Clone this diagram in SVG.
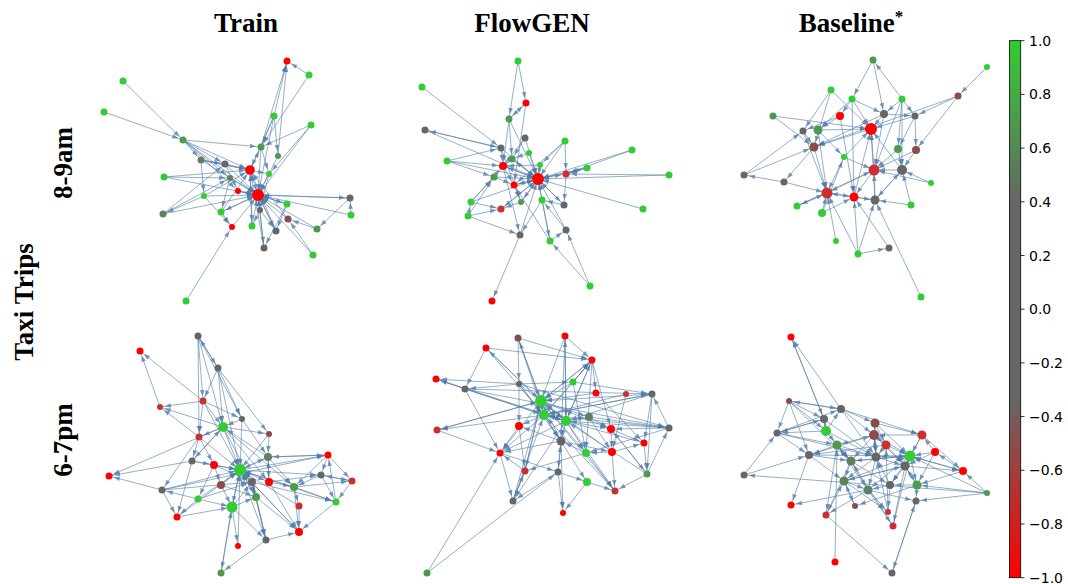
<svg xmlns="http://www.w3.org/2000/svg" width="1068" height="584" viewBox="0 0 1068 584">
<defs>
<style>
.title{font-family:"Liberation Serif",serif;font-weight:bold;font-size:27px;fill:#000}
.tick{font-family:"DejaVu Sans",sans-serif;font-size:14px;fill:#000}
.G{fill:#33cc33}.DG{fill:#4c9a4c}.GG{fill:#5f7f5f}.Gy{fill:#666666}.Br{fill:#8b4b4b}.RD{fill:#cc2f2f}.R{fill:#ff0000}
.edges line{stroke:#4e79a7;stroke-opacity:0.6;stroke-width:1;marker-end:url(#ah)}
</style>
<marker id="ah" viewBox="-8 -4 16 8" markerWidth="16" markerHeight="8" refX="5" refY="0" orient="auto" markerUnits="userSpaceOnUse">
<path d="M-6,-2.3 L0,0 L-6,2.3 z" fill="#4e79a7" fill-opacity="0.75"/>
</marker>
<linearGradient id="cmap" x1="0" y1="0" x2="0" y2="1">
<stop offset="0" stop-color="#32cd32"/>
<stop offset="0.3" stop-color="#666666"/>
<stop offset="0.67" stop-color="#666666"/>
<stop offset="1" stop-color="#ff0000"/>
</linearGradient>
</defs>
<rect width="1068" height="584" fill="#ffffff"/>

<!-- column and row headings -->
<text class="title" x="246" y="32" text-anchor="middle">Train</text>
<text class="title" x="532" y="32" text-anchor="middle">FlowGEN</text>
<text class="title" x="851" y="32" text-anchor="middle">Baseline<tspan font-size="17" dy="-10">*</tspan></text>
<text class="title" transform="translate(72,163) rotate(-90)" text-anchor="middle">8-9am</text>
<text class="title" transform="translate(72,440) rotate(-90)" text-anchor="middle">6-7pm</text>
<text class="title" transform="translate(33,302) rotate(-90)" text-anchor="middle">Taxi Trips</text>

<!-- connectors -->
<g id="connectors" class="edges">
<!-- Train, 8-9am -->
<line x1="309" y1="75" x2="287" y2="61"/><line x1="274" y1="116" x2="287" y2="61"/><line x1="261" y1="147" x2="287" y2="61"/><line x1="278" y1="156" x2="287" y2="61"/>
<line x1="123" y1="81" x2="183" y2="140"/><line x1="104" y1="112" x2="183" y2="140"/><line x1="183" y1="140" x2="261" y2="147"/><line x1="183" y1="140" x2="250" y2="170"/>
<line x1="183" y1="140" x2="225" y2="164"/><line x1="183" y1="140" x2="230" y2="178"/><line x1="183" y1="140" x2="258" y2="195"/><line x1="183" y1="140" x2="238" y2="191"/>
<line x1="201" y1="160" x2="258" y2="195"/><line x1="201" y1="160" x2="250" y2="170"/><line x1="201" y1="160" x2="269" y2="174"/><line x1="201" y1="160" x2="204" y2="196"/>
<line x1="225" y1="164" x2="250" y2="170"/><line x1="225" y1="164" x2="258" y2="195"/><line x1="274" y1="116" x2="250" y2="170"/><line x1="274" y1="116" x2="258" y2="195"/>
<line x1="274" y1="116" x2="261" y2="147"/><line x1="311" y1="125" x2="261" y2="147"/><line x1="311" y1="125" x2="269" y2="174"/><line x1="311" y1="125" x2="258" y2="195"/>
<line x1="278" y1="156" x2="258" y2="195"/><line x1="269" y1="174" x2="258" y2="195"/><line x1="250" y1="170" x2="258" y2="195"/><line x1="164" y1="177" x2="250" y2="170"/>
<line x1="164" y1="177" x2="258" y2="195"/><line x1="230" y1="178" x2="258" y2="195"/><line x1="238" y1="191" x2="258" y2="195"/><line x1="204" y1="196" x2="250" y2="170"/>
<line x1="204" y1="196" x2="258" y2="195"/><line x1="204" y1="196" x2="163" y2="214"/><line x1="204" y1="196" x2="232" y2="227"/><line x1="221" y1="212" x2="250" y2="170"/>
<line x1="221" y1="212" x2="258" y2="195"/><line x1="163" y1="214" x2="225" y2="164"/><line x1="163" y1="214" x2="258" y2="195"/><line x1="163" y1="214" x2="230" y2="178"/>
<line x1="350" y1="198" x2="258" y2="195"/><line x1="351" y1="215" x2="258" y2="195"/><line x1="351" y1="215" x2="350" y2="198"/><line x1="350" y1="198" x2="317" y2="229"/>
<line x1="317" y1="229" x2="258" y2="195"/><line x1="287" y1="204" x2="258" y2="195"/><line x1="260" y1="210" x2="258" y2="195"/><line x1="288" y1="219" x2="258" y2="195"/>
<line x1="288" y1="219" x2="250" y2="170"/><line x1="252" y1="226" x2="258" y2="195"/><line x1="232" y1="227" x2="258" y2="195"/><line x1="252" y1="226" x2="250" y2="170"/>
<line x1="276" y1="231" x2="258" y2="195"/><line x1="276" y1="231" x2="250" y2="170"/><line x1="264" y1="248" x2="258" y2="195"/><line x1="264" y1="248" x2="250" y2="170"/>
<line x1="313" y1="255" x2="288" y2="219"/><line x1="313" y1="255" x2="258" y2="195"/><line x1="186" y1="301" x2="232" y2="227"/><line x1="258" y1="195" x2="264" y2="248"/>
<line x1="258" y1="195" x2="276" y2="231"/><line x1="258" y1="195" x2="221" y2="212"/><line x1="250" y1="170" x2="252" y2="226"/><line x1="269" y1="174" x2="260" y2="210"/>
<line x1="287" y1="204" x2="276" y2="231"/><line x1="261" y1="147" x2="258" y2="195"/><line x1="261" y1="147" x2="269" y2="174"/><line x1="274" y1="116" x2="278" y2="156"/>
<line x1="183" y1="140" x2="201" y2="160"/><line x1="309" y1="75" x2="261" y2="147"/><line x1="317" y1="229" x2="288" y2="219"/><line x1="260" y1="210" x2="276" y2="231"/>
<line x1="258" y1="195" x2="287" y2="204"/><line x1="230" y1="178" x2="221" y2="212"/><line x1="287" y1="204" x2="264" y2="248"/><line x1="258" y1="195" x2="350" y2="198"/>
<line x1="250" y1="170" x2="261" y2="147"/><line x1="164" y1="177" x2="230" y2="178"/><line x1="201" y1="160" x2="225" y2="164"/><line x1="225" y1="164" x2="238" y2="191"/>
<line x1="258" y1="195" x2="238" y2="191"/><line x1="260" y1="210" x2="252" y2="226"/><line x1="221" y1="212" x2="232" y2="227"/>

<!-- FlowGEN, 8-9am -->
<line x1="518" y1="61" x2="509" y2="119"/><line x1="518" y1="61" x2="526" y2="103"/><line x1="509" y1="119" x2="526" y2="103"/><line x1="422" y1="87" x2="501" y2="148"/>
<line x1="501" y1="148" x2="425" y2="130"/><line x1="425" y1="130" x2="538" y2="179"/><line x1="526" y1="103" x2="514" y2="185"/><line x1="509" y1="119" x2="538" y2="179"/>
<line x1="509" y1="119" x2="503" y2="166"/><line x1="525" y1="138" x2="538" y2="179"/><line x1="525" y1="138" x2="503" y2="166"/><line x1="565" y1="141" x2="566" y2="174"/>
<line x1="565" y1="141" x2="538" y2="179"/><line x1="565" y1="141" x2="514" y2="185"/><line x1="632" y1="150" x2="538" y2="179"/><line x1="632" y1="150" x2="566" y2="174"/>
<line x1="587" y1="168" x2="538" y2="179"/><line x1="669" y1="175" x2="538" y2="179"/><line x1="669" y1="175" x2="566" y2="174"/><line x1="643" y1="209" x2="538" y2="179"/>
<line x1="447" y1="161" x2="503" y2="166"/><line x1="447" y1="161" x2="538" y2="179"/><line x1="447" y1="161" x2="501" y2="148"/><line x1="501" y1="148" x2="538" y2="179"/>
<line x1="529" y1="153" x2="538" y2="179"/><line x1="512" y1="159" x2="538" y2="179"/><line x1="503" y1="166" x2="538" y2="179"/><line x1="540" y1="165" x2="538" y2="179"/>
<line x1="494" y1="177" x2="538" y2="179"/><line x1="514" y1="185" x2="538" y2="179"/><line x1="542" y1="200" x2="538" y2="179"/><line x1="521" y1="202" x2="538" y2="179"/>
<line x1="471" y1="202" x2="494" y2="177"/><line x1="471" y1="202" x2="503" y2="166"/><line x1="471" y1="202" x2="538" y2="179"/><line x1="468" y1="216" x2="494" y2="177"/>
<line x1="468" y1="216" x2="501" y2="209"/><line x1="468" y1="216" x2="520" y2="235"/><line x1="501" y1="209" x2="538" y2="179"/><line x1="564" y1="205" x2="538" y2="179"/>
<line x1="566" y1="230" x2="538" y2="179"/><line x1="566" y1="230" x2="542" y2="200"/><line x1="520" y1="235" x2="538" y2="179"/><line x1="520" y1="235" x2="492" y2="301"/>
<line x1="550" y1="241" x2="538" y2="179"/><line x1="550" y1="241" x2="566" y2="230"/><line x1="550" y1="241" x2="514" y2="185"/><line x1="590" y1="286" x2="550" y2="241"/>
<line x1="590" y1="286" x2="566" y2="230"/><line x1="538" y1="179" x2="503" y2="166"/><line x1="538" y1="179" x2="512" y2="159"/><line x1="538" y1="179" x2="514" y2="185"/>
<line x1="538" y1="179" x2="564" y2="205"/><line x1="538" y1="179" x2="521" y2="202"/><line x1="503" y1="166" x2="514" y2="185"/><line x1="512" y1="159" x2="503" y2="166"/>
<line x1="529" y1="153" x2="512" y2="159"/><line x1="494" y1="177" x2="514" y2="185"/><line x1="521" y1="202" x2="501" y2="209"/><line x1="542" y1="200" x2="550" y2="241"/>
<line x1="564" y1="205" x2="542" y2="200"/><line x1="566" y1="174" x2="564" y2="205"/><line x1="509" y1="119" x2="512" y2="159"/><line x1="501" y1="148" x2="503" y2="166"/>
<line x1="525" y1="138" x2="512" y2="159"/><line x1="540" y1="165" x2="503" y2="166"/><line x1="503" y1="166" x2="520" y2="235"/><line x1="514" y1="185" x2="521" y2="202"/>
<line x1="587" y1="168" x2="566" y2="174"/><line x1="471" y1="202" x2="501" y2="209"/><line x1="468" y1="216" x2="471" y2="202"/><line x1="542" y1="200" x2="520" y2="235"/>
<line x1="538" y1="179" x2="501" y2="209"/><line x1="501" y1="148" x2="521" y2="202"/><line x1="447" y1="161" x2="494" y2="177"/><line x1="425" y1="130" x2="501" y2="148"/>
<line x1="526" y1="103" x2="509" y2="119"/><line x1="565" y1="141" x2="540" y2="165"/><line x1="538" y1="179" x2="566" y2="174"/><line x1="538" y1="179" x2="587" y2="168"/>

<!-- Baseline, 8-9am -->
<line x1="987" y1="67" x2="958" y2="96"/><line x1="873" y1="60" x2="852" y2="99"/><line x1="873" y1="60" x2="884" y2="114"/><line x1="902" y1="99" x2="873" y2="60"/>
<line x1="831" y1="90" x2="803" y2="131"/><line x1="831" y1="90" x2="814" y2="147"/><line x1="852" y1="99" x2="840" y2="116"/><line x1="852" y1="99" x2="871" y2="129"/>
<line x1="852" y1="99" x2="854" y2="197"/><line x1="852" y1="99" x2="884" y2="114"/><line x1="902" y1="99" x2="884" y2="114"/><line x1="902" y1="99" x2="898" y2="149"/>
<line x1="902" y1="99" x2="915" y2="116"/><line x1="902" y1="99" x2="902" y2="170"/><line x1="902" y1="99" x2="874" y2="170"/><line x1="884" y1="114" x2="871" y2="129"/>
<line x1="884" y1="114" x2="915" y2="116"/><line x1="884" y1="114" x2="814" y2="147"/><line x1="840" y1="116" x2="818" y2="130"/><line x1="840" y1="116" x2="803" y2="131"/>
<line x1="915" y1="116" x2="916" y2="150"/><line x1="915" y1="116" x2="871" y2="129"/><line x1="958" y1="96" x2="916" y2="150"/><line x1="958" y1="96" x2="814" y2="147"/>
<line x1="773" y1="116" x2="814" y2="147"/><line x1="773" y1="116" x2="871" y2="129"/><line x1="803" y1="131" x2="827" y2="193"/><line x1="803" y1="131" x2="814" y2="147"/>
<line x1="818" y1="130" x2="844" y2="157"/><line x1="818" y1="130" x2="871" y2="129"/><line x1="818" y1="130" x2="827" y2="193"/><line x1="814" y1="147" x2="827" y2="193"/>
<line x1="814" y1="147" x2="784" y2="182"/><line x1="898" y1="149" x2="874" y2="170"/><line x1="916" y1="150" x2="902" y2="170"/><line x1="916" y1="150" x2="874" y2="170"/>
<line x1="844" y1="157" x2="871" y2="129"/><line x1="844" y1="157" x2="827" y2="193"/><line x1="844" y1="157" x2="874" y2="170"/><line x1="874" y1="170" x2="871" y2="129"/>
<line x1="874" y1="170" x2="827" y2="193"/><line x1="874" y1="170" x2="854" y2="197"/><line x1="902" y1="170" x2="874" y2="170"/><line x1="902" y1="170" x2="875" y2="200"/>
<line x1="902" y1="170" x2="871" y2="129"/><line x1="744" y1="175" x2="803" y2="131"/><line x1="744" y1="175" x2="814" y2="147"/><line x1="784" y1="182" x2="744" y2="175"/>
<line x1="784" y1="182" x2="827" y2="193"/><line x1="931" y1="183" x2="902" y2="170"/><line x1="931" y1="183" x2="874" y2="170"/><line x1="827" y1="193" x2="854" y2="197"/>
<line x1="827" y1="193" x2="797" y2="206"/><line x1="854" y1="197" x2="875" y2="200"/><line x1="854" y1="197" x2="871" y2="129"/><line x1="875" y1="200" x2="874" y2="170"/>
<line x1="875" y1="200" x2="902" y2="170"/><line x1="875" y1="200" x2="871" y2="129"/><line x1="911" y1="205" x2="875" y2="200"/><line x1="911" y1="205" x2="902" y2="170"/>
<line x1="797" y1="206" x2="827" y2="193"/><line x1="797" y1="206" x2="874" y2="170"/><line x1="822" y1="213" x2="827" y2="193"/><line x1="822" y1="213" x2="844" y2="157"/>
<line x1="836" y1="241" x2="827" y2="193"/><line x1="858" y1="254" x2="827" y2="193"/><line x1="858" y1="254" x2="875" y2="200"/><line x1="858" y1="254" x2="889" y2="248"/>
<line x1="889" y1="248" x2="854" y2="197"/><line x1="921" y1="297" x2="875" y2="200"/><line x1="858" y1="254" x2="854" y2="197"/><line x1="871" y1="129" x2="814" y2="147"/>
<line x1="840" y1="116" x2="854" y2="197"/><line x1="884" y1="114" x2="874" y2="170"/><line x1="875" y1="200" x2="827" y2="193"/><line x1="831" y1="90" x2="871" y2="129"/>
<line x1="852" y1="99" x2="818" y2="130"/><line x1="822" y1="213" x2="854" y2="197"/><line x1="898" y1="149" x2="902" y2="170"/><line x1="915" y1="116" x2="898" y2="149"/>
<line x1="958" y1="96" x2="915" y2="116"/>

<!-- Train, 6-7pm -->
<line x1="198" y1="336" x2="218" y2="368"/><line x1="198" y1="336" x2="203" y2="401"/><line x1="198" y1="336" x2="223" y2="427"/><line x1="218" y1="368" x2="198" y2="336"/>
<line x1="218" y1="368" x2="242" y2="419"/><line x1="218" y1="368" x2="240" y2="470"/><line x1="203" y1="401" x2="140" y2="351"/><line x1="203" y1="401" x2="160" y2="407"/>
<line x1="203" y1="401" x2="242" y2="419"/><line x1="203" y1="401" x2="240" y2="470"/><line x1="160" y1="407" x2="140" y2="351"/><line x1="242" y1="419" x2="240" y2="470"/>
<line x1="223" y1="427" x2="240" y2="470"/><line x1="223" y1="427" x2="199" y2="437"/><line x1="223" y1="427" x2="269" y2="434"/><line x1="223" y1="427" x2="192" y2="461"/>
<line x1="223" y1="427" x2="252" y2="482"/><line x1="269" y1="434" x2="240" y2="470"/><line x1="199" y1="437" x2="160" y2="407"/><line x1="199" y1="437" x2="240" y2="470"/>
<line x1="199" y1="437" x2="162" y2="490"/><line x1="268" y1="457" x2="240" y2="470"/><line x1="268" y1="457" x2="269" y2="482"/><line x1="268" y1="457" x2="223" y2="427"/>
<line x1="328" y1="455" x2="268" y2="457"/><line x1="328" y1="455" x2="294" y2="487"/><line x1="328" y1="455" x2="321" y2="475"/><line x1="192" y1="461" x2="109" y2="476"/>
<line x1="192" y1="461" x2="214" y2="465"/><line x1="192" y1="461" x2="240" y2="470"/><line x1="214" y1="465" x2="240" y2="470"/><line x1="240" y1="470" x2="252" y2="482"/>
<line x1="240" y1="470" x2="269" y2="482"/><line x1="321" y1="475" x2="294" y2="487"/><line x1="321" y1="475" x2="352" y2="481"/><line x1="252" y1="482" x2="256" y2="497"/>
<line x1="269" y1="482" x2="268" y2="457"/><line x1="269" y1="482" x2="294" y2="487"/><line x1="352" y1="481" x2="336" y2="502"/><line x1="352" y1="481" x2="321" y2="475"/>
<line x1="221" y1="485" x2="240" y2="470"/><line x1="294" y1="487" x2="240" y2="470"/><line x1="294" y1="487" x2="299" y2="506"/><line x1="294" y1="487" x2="336" y2="502"/>
<line x1="162" y1="490" x2="109" y2="476"/><line x1="162" y1="490" x2="177" y2="517"/><line x1="162" y1="490" x2="240" y2="470"/><line x1="256" y1="497" x2="240" y2="470"/>
<line x1="256" y1="497" x2="266" y2="540"/><line x1="198" y1="499" x2="240" y2="470"/><line x1="198" y1="499" x2="177" y2="517"/><line x1="198" y1="499" x2="162" y2="490"/>
<line x1="336" y1="502" x2="299" y2="532"/><line x1="336" y1="502" x2="328" y2="455"/><line x1="232" y1="507" x2="240" y2="470"/><line x1="232" y1="507" x2="238" y2="546"/>
<line x1="232" y1="507" x2="221" y2="573"/><line x1="299" y1="506" x2="299" y2="532"/><line x1="299" y1="506" x2="240" y2="470"/><line x1="177" y1="517" x2="240" y2="470"/>
<line x1="299" y1="532" x2="240" y2="470"/><line x1="266" y1="540" x2="221" y2="573"/><line x1="266" y1="540" x2="299" y2="532"/><line x1="266" y1="540" x2="252" y2="482"/>
<line x1="238" y1="546" x2="240" y2="470"/><line x1="221" y1="573" x2="232" y2="507"/><line x1="214" y1="465" x2="221" y2="485"/><line x1="232" y1="507" x2="256" y2="497"/>
<line x1="223" y1="427" x2="160" y2="407"/><line x1="252" y1="482" x2="266" y2="540"/><line x1="240" y1="470" x2="299" y2="532"/><line x1="199" y1="437" x2="192" y2="461"/>
<line x1="221" y1="485" x2="232" y2="507"/><line x1="192" y1="461" x2="223" y2="427"/><line x1="162" y1="490" x2="328" y2="455"/><line x1="223" y1="427" x2="109" y2="476"/>
<line x1="240" y1="470" x2="328" y2="455"/><line x1="240" y1="470" x2="321" y2="475"/><line x1="240" y1="470" x2="336" y2="502"/><line x1="198" y1="499" x2="232" y2="507"/>
<line x1="218" y1="368" x2="203" y2="401"/><line x1="203" y1="401" x2="199" y2="437"/><line x1="232" y1="507" x2="266" y2="540"/>
<line x1="198" y1="336" x2="242" y2="419"/><line x1="218" y1="368" x2="223" y2="427"/><line x1="198" y1="336" x2="199" y2="437"/><line x1="203" y1="401" x2="223" y2="427"/>
<line x1="223" y1="427" x2="269" y2="482"/><line x1="223" y1="427" x2="294" y2="487"/><line x1="242" y1="419" x2="268" y2="457"/><line x1="269" y1="434" x2="268" y2="457"/>
<line x1="240" y1="470" x2="268" y2="457"/><line x1="240" y1="470" x2="256" y2="497"/><line x1="240" y1="470" x2="232" y2="507"/><line x1="214" y1="465" x2="252" y2="482"/>
<line x1="198" y1="499" x2="252" y2="482"/><line x1="162" y1="490" x2="252" y2="482"/><line x1="177" y1="517" x2="232" y2="507"/><line x1="240" y1="470" x2="266" y2="540"/>
<line x1="269" y1="482" x2="299" y2="532"/><line x1="294" y1="487" x2="299" y2="532"/><line x1="256" y1="497" x2="299" y2="532"/><line x1="268" y1="457" x2="294" y2="487"/>
<line x1="268" y1="457" x2="328" y2="455"/><line x1="269" y1="482" x2="321" y2="475"/><line x1="294" y1="487" x2="352" y2="481"/><line x1="252" y1="482" x2="336" y2="502"/>
<line x1="328" y1="455" x2="352" y2="481"/><line x1="321" y1="475" x2="336" y2="502"/><line x1="232" y1="507" x2="252" y2="482"/><line x1="221" y1="485" x2="256" y2="497"/>
<line x1="192" y1="461" x2="177" y2="517"/><line x1="214" y1="465" x2="198" y2="499"/><line x1="199" y1="437" x2="214" y2="465"/><line x1="242" y1="419" x2="223" y2="427"/>
<line x1="218" y1="368" x2="269" y2="434"/>

<!-- FlowGEN, 6-7pm -->
<line x1="518" y1="338" x2="519" y2="384"/><line x1="518" y1="338" x2="541" y2="401"/><line x1="541" y1="401" x2="518" y2="338"/><line x1="486" y1="348" x2="541" y2="401"/>
<line x1="486" y1="348" x2="544" y2="415"/><line x1="541" y1="401" x2="486" y2="348"/><line x1="565" y1="336" x2="566" y2="421"/><line x1="566" y1="421" x2="565" y2="336"/>
<line x1="565" y1="336" x2="561" y2="441"/><line x1="592" y1="360" x2="544" y2="415"/><line x1="592" y1="360" x2="541" y2="401"/><line x1="592" y1="360" x2="566" y2="421"/>
<line x1="592" y1="360" x2="611" y2="429"/><line x1="465" y1="389" x2="436" y2="379"/><line x1="519" y1="384" x2="436" y2="379"/><line x1="519" y1="384" x2="465" y2="389"/>
<line x1="465" y1="389" x2="500" y2="453"/><line x1="519" y1="384" x2="561" y2="441"/><line x1="519" y1="384" x2="519" y2="426"/><line x1="573" y1="382" x2="592" y2="360"/>
<line x1="573" y1="382" x2="541" y2="401"/><line x1="596" y1="393" x2="541" y2="401"/><line x1="626" y1="394" x2="544" y2="415"/><line x1="652" y1="394" x2="544" y2="415"/>
<line x1="652" y1="394" x2="541" y2="401"/><line x1="652" y1="394" x2="566" y2="421"/><line x1="652" y1="394" x2="644" y2="443"/><line x1="669" y1="428" x2="652" y2="394"/>
<line x1="669" y1="428" x2="566" y2="421"/><line x1="669" y1="428" x2="544" y2="415"/><line x1="669" y1="428" x2="611" y2="429"/><line x1="541" y1="401" x2="544" y2="415"/>
<line x1="541" y1="401" x2="566" y2="421"/><line x1="541" y1="401" x2="589" y2="417"/><line x1="541" y1="401" x2="611" y2="429"/><line x1="544" y1="415" x2="566" y2="421"/>
<line x1="544" y1="415" x2="519" y2="426"/><line x1="544" y1="415" x2="437" y2="430"/><line x1="566" y1="421" x2="589" y2="417"/><line x1="566" y1="421" x2="611" y2="429"/>
<line x1="566" y1="421" x2="561" y2="441"/><line x1="589" y1="417" x2="611" y2="429"/><line x1="589" y1="417" x2="669" y2="428"/><line x1="519" y1="426" x2="500" y2="453"/>
<line x1="611" y1="429" x2="644" y2="443"/><line x1="561" y1="441" x2="500" y2="453"/><line x1="561" y1="441" x2="558" y2="472"/><line x1="561" y1="441" x2="563" y2="513"/>
<line x1="644" y1="443" x2="544" y2="415"/><line x1="586" y1="453" x2="615" y2="491"/><line x1="586" y1="453" x2="525" y2="471"/><line x1="586" y1="453" x2="561" y2="441"/>
<line x1="612" y1="452" x2="541" y2="401"/><line x1="612" y1="452" x2="644" y2="443"/><line x1="612" y1="452" x2="615" y2="491"/><line x1="500" y1="453" x2="558" y2="472"/>
<line x1="525" y1="471" x2="500" y2="453"/><line x1="525" y1="471" x2="513" y2="501"/><line x1="558" y1="472" x2="513" y2="501"/><line x1="558" y1="472" x2="587" y2="482"/>
<line x1="558" y1="472" x2="563" y2="513"/><line x1="647" y1="474" x2="611" y2="429"/><line x1="647" y1="474" x2="615" y2="491"/><line x1="647" y1="474" x2="566" y2="421"/>
<line x1="587" y1="482" x2="615" y2="491"/><line x1="615" y1="491" x2="544" y2="415"/><line x1="513" y1="501" x2="544" y2="415"/><line x1="513" y1="501" x2="541" y2="401"/>
<line x1="427" y1="573" x2="500" y2="453"/><line x1="427" y1="573" x2="558" y2="472"/><line x1="437" y1="430" x2="541" y2="401"/><line x1="519" y1="384" x2="566" y2="421"/>
<line x1="566" y1="421" x2="513" y2="501"/><line x1="596" y1="393" x2="644" y2="443"/><line x1="611" y1="429" x2="612" y2="452"/><line x1="544" y1="415" x2="652" y2="394"/>
<line x1="669" y1="428" x2="586" y2="453"/><line x1="525" y1="471" x2="541" y2="401"/><line x1="465" y1="389" x2="544" y2="415"/><line x1="519" y1="384" x2="573" y2="382"/>
<line x1="573" y1="382" x2="652" y2="394"/><line x1="541" y1="401" x2="592" y2="360"/><line x1="544" y1="415" x2="592" y2="360"/><line x1="561" y1="441" x2="541" y2="401"/>
<line x1="587" y1="482" x2="563" y2="513"/><line x1="589" y1="417" x2="612" y2="452"/><line x1="647" y1="474" x2="669" y2="428"/>
<line x1="465" y1="389" x2="652" y2="394"/><line x1="486" y1="348" x2="592" y2="360"/><line x1="518" y1="338" x2="592" y2="360"/><line x1="519" y1="384" x2="669" y2="428"/>
<line x1="465" y1="389" x2="669" y2="428"/><line x1="436" y1="379" x2="566" y2="421"/><line x1="544" y1="415" x2="436" y2="379"/><line x1="541" y1="401" x2="437" y2="430"/>
<line x1="544" y1="415" x2="500" y2="453"/><line x1="541" y1="401" x2="500" y2="453"/><line x1="566" y1="421" x2="500" y2="453"/><line x1="541" y1="401" x2="525" y2="471"/>
<line x1="566" y1="421" x2="615" y2="491"/><line x1="541" y1="401" x2="615" y2="491"/><line x1="544" y1="415" x2="587" y2="482"/><line x1="541" y1="401" x2="586" y2="453"/>
<line x1="566" y1="421" x2="586" y2="453"/><line x1="573" y1="382" x2="586" y2="453"/><line x1="592" y1="360" x2="596" y2="393"/><line x1="592" y1="360" x2="586" y2="453"/>
<line x1="565" y1="336" x2="592" y2="360"/><line x1="626" y1="394" x2="612" y2="452"/><line x1="652" y1="394" x2="647" y2="474"/><line x1="644" y1="443" x2="647" y2="474"/>
<line x1="611" y1="429" x2="647" y2="474"/><line x1="561" y1="441" x2="519" y2="426"/><line x1="558" y1="472" x2="561" y2="441"/><line x1="513" y1="501" x2="525" y2="471"/>
<line x1="519" y1="426" x2="525" y2="471"/><line x1="519" y1="384" x2="544" y2="415"/><line x1="518" y1="338" x2="544" y2="415"/><line x1="486" y1="348" x2="465" y2="389"/>
<line x1="566" y1="421" x2="592" y2="360"/><line x1="565" y1="336" x2="541" y2="401"/><line x1="612" y1="452" x2="586" y2="453"/><line x1="561" y1="441" x2="612" y2="452"/>
<line x1="544" y1="415" x2="561" y2="441"/><line x1="500" y1="453" x2="513" y2="501"/><line x1="437" y1="430" x2="500" y2="453"/>

<!-- Baseline, 6-7pm -->
<line x1="841" y1="409" x2="791" y2="337"/><line x1="824" y1="419" x2="791" y2="337"/><line x1="791" y1="337" x2="824" y2="419"/><line x1="789" y1="401" x2="824" y2="419"/>
<line x1="789" y1="401" x2="809" y2="455"/><line x1="789" y1="401" x2="851" y2="461"/><line x1="841" y1="409" x2="789" y2="401"/><line x1="841" y1="409" x2="875" y2="423"/>
<line x1="841" y1="409" x2="874" y2="435"/><line x1="824" y1="419" x2="777" y2="433"/><line x1="824" y1="419" x2="876" y2="457"/><line x1="875" y1="423" x2="874" y2="435"/>
<line x1="875" y1="423" x2="886" y2="445"/><line x1="826" y1="431" x2="841" y2="409"/><line x1="826" y1="431" x2="777" y2="433"/><line x1="826" y1="431" x2="876" y2="457"/>
<line x1="826" y1="431" x2="851" y2="461"/><line x1="777" y1="433" x2="809" y2="455"/><line x1="874" y1="435" x2="837" y2="445"/><line x1="874" y1="435" x2="851" y2="461"/>
<line x1="874" y1="435" x2="910" y2="456"/><line x1="922" y1="435" x2="910" y2="456"/><line x1="922" y1="435" x2="874" y2="435"/><line x1="837" y1="445" x2="809" y2="455"/>
<line x1="837" y1="445" x2="876" y2="457"/><line x1="837" y1="445" x2="826" y2="515"/><line x1="886" y1="445" x2="905" y2="466"/><line x1="886" y1="445" x2="809" y2="455"/>
<line x1="935" y1="452" x2="917" y2="485"/><line x1="910" y1="456" x2="963" y2="471"/><line x1="910" y1="456" x2="851" y2="461"/><line x1="910" y1="456" x2="876" y2="457"/>
<line x1="809" y1="455" x2="910" y2="456"/><line x1="809" y1="455" x2="791" y2="505"/><line x1="876" y1="457" x2="905" y2="466"/><line x1="876" y1="457" x2="844" y2="481"/>
<line x1="851" y1="461" x2="910" y2="456"/><line x1="851" y1="461" x2="868" y2="490"/><line x1="905" y1="466" x2="963" y2="471"/><line x1="905" y1="466" x2="844" y2="481"/>
<line x1="963" y1="471" x2="910" y2="456"/><line x1="744" y1="475" x2="777" y2="433"/><line x1="987" y1="493" x2="744" y2="475"/><line x1="987" y1="493" x2="917" y2="485"/>
<line x1="987" y1="493" x2="910" y2="456"/><line x1="987" y1="493" x2="963" y2="471"/><line x1="844" y1="481" x2="868" y2="490"/><line x1="844" y1="481" x2="905" y2="466"/>
<line x1="890" y1="485" x2="876" y2="457"/><line x1="890" y1="485" x2="868" y2="490"/><line x1="917" y1="485" x2="890" y2="485"/><line x1="917" y1="485" x2="855" y2="506"/>
<line x1="868" y1="490" x2="916" y2="501"/><line x1="868" y1="490" x2="837" y2="445"/><line x1="916" y1="501" x2="892" y2="573"/><line x1="892" y1="573" x2="916" y2="501"/>
<line x1="826" y1="515" x2="892" y2="573"/><line x1="826" y1="515" x2="844" y2="481"/><line x1="868" y1="490" x2="791" y2="505"/><line x1="855" y1="506" x2="844" y2="481"/>
<line x1="888" y1="512" x2="876" y2="457"/><line x1="888" y1="512" x2="886" y2="445"/><line x1="893" y1="526" x2="910" y2="456"/><line x1="893" y1="526" x2="851" y2="461"/>
<line x1="835" y1="562" x2="837" y2="445"/><line x1="876" y1="457" x2="874" y2="435"/><line x1="809" y1="455" x2="874" y2="435"/><line x1="789" y1="401" x2="777" y2="433"/>
<line x1="875" y1="423" x2="910" y2="456"/><line x1="844" y1="481" x2="910" y2="456"/><line x1="851" y1="461" x2="890" y2="485"/><line x1="777" y1="433" x2="841" y2="409"/>
<line x1="875" y1="423" x2="922" y2="435"/><line x1="841" y1="409" x2="922" y2="435"/><line x1="917" y1="485" x2="905" y2="466"/><line x1="905" y1="466" x2="893" y2="526"/>
<line x1="868" y1="490" x2="826" y2="515"/><line x1="844" y1="481" x2="888" y2="512"/><line x1="910" y1="456" x2="917" y2="485"/><line x1="935" y1="452" x2="922" y2="435"/>
<line x1="963" y1="471" x2="935" y2="452"/><line x1="826" y1="431" x2="824" y2="419"/>
<line x1="789" y1="401" x2="841" y2="409"/><line x1="777" y1="433" x2="824" y2="419"/><line x1="789" y1="401" x2="826" y2="431"/><line x1="824" y1="419" x2="826" y2="431"/>
<line x1="841" y1="409" x2="876" y2="457"/><line x1="875" y1="423" x2="876" y2="457"/><line x1="874" y1="435" x2="876" y2="457"/><line x1="874" y1="435" x2="905" y2="466"/>
<line x1="886" y1="445" x2="910" y2="456"/><line x1="886" y1="445" x2="876" y2="457"/><line x1="922" y1="435" x2="905" y2="466"/><line x1="935" y1="452" x2="905" y2="466"/>
<line x1="910" y1="456" x2="905" y2="466"/><line x1="910" y1="456" x2="890" y2="485"/><line x1="910" y1="456" x2="868" y2="490"/><line x1="876" y1="457" x2="868" y2="490"/>
<line x1="851" y1="461" x2="844" y2="481"/><line x1="837" y1="445" x2="851" y2="461"/><line x1="809" y1="455" x2="851" y2="461"/><line x1="809" y1="455" x2="844" y2="481"/>
<line x1="826" y1="431" x2="837" y2="445"/><line x1="777" y1="433" x2="837" y2="445"/><line x1="777" y1="433" x2="876" y2="457"/><line x1="744" y1="475" x2="809" y2="455"/>
<line x1="917" y1="485" x2="916" y2="501"/><line x1="890" y1="485" x2="888" y2="512"/><line x1="905" y1="466" x2="890" y2="485"/><line x1="905" y1="466" x2="917" y2="485"/>
<line x1="963" y1="471" x2="917" y2="485"/><line x1="987" y1="493" x2="916" y2="501"/><line x1="844" y1="481" x2="855" y2="506"/><line x1="868" y1="490" x2="888" y2="512"/>
<line x1="868" y1="490" x2="893" y2="526"/><line x1="851" y1="461" x2="826" y2="515"/><line x1="874" y1="435" x2="886" y2="445"/><line x1="935" y1="452" x2="910" y2="456"/>
<line x1="922" y1="435" x2="963" y2="471"/>
</g>

<!-- nodes: Train, 8-9am -->
<g id="train-am-0"><circle class="R" cx="287" cy="61" r="3.5"/></g>
<g id="train-am-1"><circle class="G" cx="309" cy="75" r="3.5"/></g>
<g id="train-am-2"><circle class="G" cx="123" cy="81" r="3.5"/></g>
<g id="train-am-3"><circle class="G" cx="104" cy="112" r="3.5"/></g>
<g id="train-am-4"><circle class="G" cx="274" cy="116" r="3.5"/></g>
<g id="train-am-5"><circle class="G" cx="311" cy="125" r="3.5"/></g>
<g id="train-am-6"><circle class="DG" cx="183" cy="140" r="3.5"/></g>
<g id="train-am-7"><circle class="DG" cx="261" cy="147" r="3.5"/></g>
<g id="train-am-8"><circle class="DG" cx="278" cy="156" r="3"/></g>
<g id="train-am-9"><circle class="GG" cx="201" cy="160" r="3.5"/></g>
<g id="train-am-10"><circle class="Gy" cx="225" cy="164" r="3.5"/></g>
<g id="train-am-11"><circle class="R" cx="250" cy="170" r="4.8"/></g>
<g id="train-am-12"><circle class="G" cx="269" cy="174" r="3"/></g>
<g id="train-am-13"><circle class="G" cx="164" cy="177" r="3.5"/></g>
<g id="train-am-14"><circle class="GG" cx="230" cy="178" r="3"/></g>
<g id="train-am-15"><circle class="R" cx="238" cy="191" r="3"/></g>
<g id="train-am-16"><circle class="R" cx="258" cy="195" r="6"/></g>
<g id="train-am-17"><circle class="G" cx="204" cy="196" r="3"/></g>
<g id="train-am-18"><circle class="Gy" cx="350" cy="198" r="3.5"/></g>
<g id="train-am-19"><circle class="G" cx="287" cy="204" r="3.5"/></g>
<g id="train-am-20"><circle class="Gy" cx="260" cy="210" r="3"/></g>
<g id="train-am-21"><circle class="G" cx="221" cy="212" r="3.5"/></g>
<g id="train-am-22"><circle class="GG" cx="163" cy="214" r="3.5"/></g>
<g id="train-am-23"><circle class="G" cx="351" cy="215" r="3.5"/></g>
<g id="train-am-24"><circle class="Br" cx="288" cy="219" r="3.5"/></g>
<g id="train-am-25"><circle class="G" cx="252" cy="226" r="3.5"/></g>
<g id="train-am-26"><circle class="R" cx="232" cy="227" r="3"/></g>
<g id="train-am-27"><circle class="DG" cx="317" cy="229" r="3.5"/></g>
<g id="train-am-28"><circle class="Gy" cx="276" cy="231" r="3.5"/></g>
<g id="train-am-29"><circle class="Gy" cx="264" cy="248" r="3.5"/></g>
<g id="train-am-30"><circle class="G" cx="313" cy="255" r="3.5"/></g>
<g id="train-am-31"><circle class="G" cx="186" cy="301" r="3.5"/></g>

<!-- nodes: FlowGEN, 8-9am -->
<g id="flowgen-am-0"><circle class="G" cx="518" cy="61" r="3.5"/></g>
<g id="flowgen-am-1"><circle class="G" cx="422" cy="87" r="3.5"/></g>
<g id="flowgen-am-2"><circle class="R" cx="526" cy="103" r="3.5"/></g>
<g id="flowgen-am-3"><circle class="DG" cx="509" cy="119" r="3.5"/></g>
<g id="flowgen-am-4"><circle class="Gy" cx="425" cy="130" r="3.5"/></g>
<g id="flowgen-am-5"><circle class="Gy" cx="525" cy="138" r="3.5"/></g>
<g id="flowgen-am-6"><circle class="G" cx="565" cy="141" r="3.5"/></g>
<g id="flowgen-am-7"><circle class="Gy" cx="501" cy="148" r="3.5"/></g>
<g id="flowgen-am-8"><circle class="G" cx="632" cy="150" r="3.5"/></g>
<g id="flowgen-am-9"><circle class="G" cx="529" cy="153" r="3"/></g>
<g id="flowgen-am-10"><circle class="DG" cx="512" cy="159" r="3.5"/></g>
<g id="flowgen-am-11"><circle class="G" cx="447" cy="161" r="3.5"/></g>
<g id="flowgen-am-12"><circle class="R" cx="503" cy="166" r="4"/></g>
<g id="flowgen-am-13"><circle class="G" cx="540" cy="165" r="3"/></g>
<g id="flowgen-am-14"><circle class="G" cx="587" cy="168" r="3.5"/></g>
<g id="flowgen-am-15"><circle class="RD" cx="566" cy="174" r="3.5"/></g>
<g id="flowgen-am-16"><circle class="G" cx="669" cy="175" r="3.5"/></g>
<g id="flowgen-am-17"><circle class="R" cx="538" cy="179" r="6"/></g>
<g id="flowgen-am-18"><circle class="DG" cx="494" cy="177" r="3.5"/></g>
<g id="flowgen-am-19"><circle class="R" cx="514" cy="185" r="3.5"/></g>
<g id="flowgen-am-20"><circle class="G" cx="542" cy="200" r="3.5"/></g>
<g id="flowgen-am-21"><circle class="DG" cx="521" cy="202" r="3"/></g>
<g id="flowgen-am-22"><circle class="G" cx="471" cy="202" r="3.5"/></g>
<g id="flowgen-am-23"><circle class="Gy" cx="564" cy="205" r="3.5"/></g>
<g id="flowgen-am-24"><circle class="RD" cx="501" cy="209" r="3.5"/></g>
<g id="flowgen-am-25"><circle class="G" cx="643" cy="209" r="3.5"/></g>
<g id="flowgen-am-26"><circle class="G" cx="468" cy="216" r="3.5"/></g>
<g id="flowgen-am-27"><circle class="Gy" cx="566" cy="230" r="3.5"/></g>
<g id="flowgen-am-28"><circle class="Gy" cx="520" cy="235" r="3.5"/></g>
<g id="flowgen-am-29"><circle class="G" cx="550" cy="241" r="3.5"/></g>
<g id="flowgen-am-30"><circle class="G" cx="590" cy="286" r="3.5"/></g>
<g id="flowgen-am-31"><circle class="R" cx="492" cy="301" r="3.5"/></g>

<!-- nodes: Baseline, 8-9am -->
<g id="baseline-am-0"><circle class="DG" cx="873" cy="60" r="3.5"/></g>
<g id="baseline-am-1"><circle class="G" cx="987" cy="67" r="3"/></g>
<g id="baseline-am-2"><circle class="Br" cx="958" cy="96" r="3.5"/></g>
<g id="baseline-am-3"><circle class="G" cx="831" cy="90" r="3.5"/></g>
<g id="baseline-am-4"><circle class="G" cx="852" cy="99" r="3.5"/></g>
<g id="baseline-am-5"><circle class="G" cx="902" cy="99" r="3.5"/></g>
<g id="baseline-am-6"><circle class="Gy" cx="884" cy="114" r="4"/></g>
<g id="baseline-am-7"><circle class="R" cx="840" cy="116" r="4"/></g>
<g id="baseline-am-8"><circle class="Gy" cx="915" cy="116" r="3.5"/></g>
<g id="baseline-am-9"><circle class="DG" cx="773" cy="116" r="3.5"/></g>
<g id="baseline-am-10"><circle class="R" cx="871" cy="129" r="6"/></g>
<g id="baseline-am-11"><circle class="Gy" cx="803" cy="131" r="3.5"/></g>
<g id="baseline-am-12"><circle class="DG" cx="818" cy="130" r="4.5"/></g>
<g id="baseline-am-13"><circle class="Br" cx="814" cy="147" r="4.5"/></g>
<g id="baseline-am-14"><circle class="DG" cx="898" cy="149" r="4"/></g>
<g id="baseline-am-15"><circle class="Br" cx="916" cy="150" r="4"/></g>
<g id="baseline-am-16"><circle class="G" cx="844" cy="157" r="3"/></g>
<g id="baseline-am-17"><circle class="RD" cx="874" cy="170" r="5.5"/></g>
<g id="baseline-am-18"><circle class="Gy" cx="902" cy="170" r="5"/></g>
<g id="baseline-am-19"><circle class="Gy" cx="744" cy="175" r="3.5"/></g>
<g id="baseline-am-20"><circle class="Gy" cx="784" cy="182" r="3.5"/></g>
<g id="baseline-am-21"><circle class="G" cx="931" cy="183" r="3"/></g>
<g id="baseline-am-22"><circle class="RD" cx="827" cy="193" r="5.5"/></g>
<g id="baseline-am-23"><circle class="R" cx="854" cy="197" r="4.5"/></g>
<g id="baseline-am-24"><circle class="Gy" cx="875" cy="200" r="4.5"/></g>
<g id="baseline-am-25"><circle class="G" cx="911" cy="205" r="3.5"/></g>
<g id="baseline-am-26"><circle class="G" cx="797" cy="206" r="3.5"/></g>
<g id="baseline-am-27"><circle class="G" cx="822" cy="213" r="4"/></g>
<g id="baseline-am-28"><circle class="G" cx="836" cy="241" r="3"/></g>
<g id="baseline-am-29"><circle class="G" cx="858" cy="254" r="3.5"/></g>
<g id="baseline-am-30"><circle class="Gy" cx="889" cy="248" r="3.5"/></g>
<g id="baseline-am-31"><circle class="G" cx="921" cy="297" r="3.5"/></g>

<!-- nodes: Train, 6-7pm -->
<g id="train-pm-0"><circle class="Gy" cx="198" cy="336" r="3.5"/></g>
<g id="train-pm-1"><circle class="R" cx="140" cy="351" r="3.5"/></g>
<g id="train-pm-2"><circle class="Gy" cx="218" cy="368" r="3.5"/></g>
<g id="train-pm-3"><circle class="RD" cx="203" cy="401" r="3.5"/></g>
<g id="train-pm-4"><circle class="RD" cx="160" cy="407" r="3"/></g>
<g id="train-pm-5"><circle class="Gy" cx="242" cy="419" r="3"/></g>
<g id="train-pm-6"><circle class="G" cx="223" cy="427" r="5"/></g>
<g id="train-pm-7"><circle class="Br" cx="269" cy="434" r="3"/></g>
<g id="train-pm-8"><circle class="RD" cx="199" cy="437" r="3.5"/></g>
<g id="train-pm-9"><circle class="GG" cx="268" cy="457" r="4"/></g>
<g id="train-pm-10"><circle class="R" cx="328" cy="455" r="3.5"/></g>
<g id="train-pm-11"><circle class="Gy" cx="192" cy="461" r="3.5"/></g>
<g id="train-pm-12"><circle class="R" cx="214" cy="465" r="4"/></g>
<g id="train-pm-13"><circle class="G" cx="240" cy="470" r="6"/></g>
<g id="train-pm-14"><circle class="R" cx="109" cy="476" r="3.5"/></g>
<g id="train-pm-15"><circle class="Gy" cx="321" cy="475" r="3.5"/></g>
<g id="train-pm-16"><circle class="Gy" cx="252" cy="482" r="4"/></g>
<g id="train-pm-17"><circle class="R" cx="269" cy="482" r="4"/></g>
<g id="train-pm-18"><circle class="RD" cx="352" cy="481" r="3.5"/></g>
<g id="train-pm-19"><circle class="Br" cx="221" cy="485" r="4"/></g>
<g id="train-pm-20"><circle class="DG" cx="294" cy="487" r="4"/></g>
<g id="train-pm-21"><circle class="Gy" cx="162" cy="490" r="3.5"/></g>
<g id="train-pm-22"><circle class="DG" cx="256" cy="497" r="4"/></g>
<g id="train-pm-23"><circle class="G" cx="198" cy="499" r="3.5"/></g>
<g id="train-pm-24"><circle class="G" cx="336" cy="502" r="3.5"/></g>
<g id="train-pm-25"><circle class="G" cx="232" cy="507" r="5.5"/></g>
<g id="train-pm-26"><circle class="RD" cx="299" cy="506" r="3.5"/></g>
<g id="train-pm-27"><circle class="R" cx="177" cy="517" r="3.5"/></g>
<g id="train-pm-28"><circle class="R" cx="299" cy="532" r="4"/></g>
<g id="train-pm-29"><circle class="Gy" cx="266" cy="540" r="3.5"/></g>
<g id="train-pm-30"><circle class="R" cx="238" cy="546" r="3"/></g>
<g id="train-pm-31"><circle class="DG" cx="221" cy="573" r="3.5"/></g>

<!-- nodes: FlowGEN, 6-7pm -->
<g id="flowgen-pm-0"><circle class="Br" cx="518" cy="338" r="3.5"/></g>
<g id="flowgen-pm-1"><circle class="R" cx="565" cy="336" r="3.5"/></g>
<g id="flowgen-pm-2"><circle class="R" cx="486" cy="348" r="3.5"/></g>
<g id="flowgen-pm-3"><circle class="R" cx="592" cy="360" r="3.5"/></g>
<g id="flowgen-pm-4"><circle class="R" cx="436" cy="379" r="3.5"/></g>
<g id="flowgen-pm-5"><circle class="Gy" cx="465" cy="389" r="3.5"/></g>
<g id="flowgen-pm-6"><circle class="Gy" cx="519" cy="384" r="3"/></g>
<g id="flowgen-pm-7"><circle class="G" cx="573" cy="382" r="3.5"/></g>
<g id="flowgen-pm-8"><circle class="R" cx="596" cy="393" r="3.5"/></g>
<g id="flowgen-pm-9"><circle class="RD" cx="626" cy="394" r="3"/></g>
<g id="flowgen-pm-10"><circle class="Gy" cx="652" cy="394" r="3.5"/></g>
<g id="flowgen-pm-11"><circle class="G" cx="541" cy="401" r="6"/></g>
<g id="flowgen-pm-12"><circle class="G" cx="544" cy="415" r="5"/></g>
<g id="flowgen-pm-13"><circle class="G" cx="566" cy="421" r="5"/></g>
<g id="flowgen-pm-14"><circle class="GG" cx="589" cy="417" r="4"/></g>
<g id="flowgen-pm-15"><circle class="R" cx="519" cy="426" r="4"/></g>
<g id="flowgen-pm-16"><circle class="R" cx="611" cy="429" r="4"/></g>
<g id="flowgen-pm-17"><circle class="Gy" cx="669" cy="428" r="3.5"/></g>
<g id="flowgen-pm-18"><circle class="RD" cx="437" cy="430" r="3.5"/></g>
<g id="flowgen-pm-19"><circle class="Gy" cx="561" cy="441" r="4.5"/></g>
<g id="flowgen-pm-20"><circle class="R" cx="644" cy="443" r="3.5"/></g>
<g id="flowgen-pm-21"><circle class="G" cx="586" cy="453" r="4"/></g>
<g id="flowgen-pm-22"><circle class="R" cx="612" cy="452" r="4"/></g>
<g id="flowgen-pm-23"><circle class="R" cx="500" cy="453" r="3.5"/></g>
<g id="flowgen-pm-24"><circle class="RD" cx="525" cy="471" r="3.5"/></g>
<g id="flowgen-pm-25"><circle class="Gy" cx="558" cy="472" r="3.5"/></g>
<g id="flowgen-pm-26"><circle class="DG" cx="647" cy="474" r="3.5"/></g>
<g id="flowgen-pm-27"><circle class="G" cx="587" cy="482" r="4"/></g>
<g id="flowgen-pm-28"><circle class="RD" cx="615" cy="491" r="3.5"/></g>
<g id="flowgen-pm-29"><circle class="Gy" cx="513" cy="501" r="3.5"/></g>
<g id="flowgen-pm-30"><circle class="R" cx="563" cy="513" r="3"/></g>
<g id="flowgen-pm-31"><circle class="DG" cx="427" cy="573" r="3.5"/></g>

<!-- nodes: Baseline, 6-7pm -->
<g id="baseline-pm-0"><circle class="R" cx="791" cy="337" r="3.5"/></g>
<g id="baseline-pm-1"><circle class="Br" cx="789" cy="401" r="3"/></g>
<g id="baseline-pm-2"><circle class="Gy" cx="841" cy="409" r="4"/></g>
<g id="baseline-pm-3"><circle class="Gy" cx="824" cy="419" r="4"/></g>
<g id="baseline-pm-4"><circle class="Br" cx="875" cy="423" r="4.5"/></g>
<g id="baseline-pm-5"><circle class="G" cx="826" cy="431" r="5"/></g>
<g id="baseline-pm-6"><circle class="Gy" cx="777" cy="433" r="3.5"/></g>
<g id="baseline-pm-7"><circle class="Br" cx="874" cy="435" r="5"/></g>
<g id="baseline-pm-8"><circle class="RD" cx="922" cy="435" r="4.5"/></g>
<g id="baseline-pm-9"><circle class="DG" cx="837" cy="445" r="4.5"/></g>
<g id="baseline-pm-10"><circle class="RD" cx="886" cy="445" r="4.5"/></g>
<g id="baseline-pm-11"><circle class="R" cx="935" cy="452" r="4"/></g>
<g id="baseline-pm-12"><circle class="G" cx="910" cy="456" r="5.5"/></g>
<g id="baseline-pm-13"><circle class="Gy" cx="809" cy="455" r="4"/></g>
<g id="baseline-pm-14"><circle class="Gy" cx="876" cy="457" r="4.5"/></g>
<g id="baseline-pm-15"><circle class="GG" cx="851" cy="461" r="4.5"/></g>
<g id="baseline-pm-16"><circle class="Gy" cx="905" cy="466" r="4.5"/></g>
<g id="baseline-pm-17"><circle class="R" cx="963" cy="471" r="4"/></g>
<g id="baseline-pm-18"><circle class="Gy" cx="744" cy="475" r="3.5"/></g>
<g id="baseline-pm-19"><circle class="GG" cx="844" cy="481" r="4.5"/></g>
<g id="baseline-pm-20"><circle class="Gy" cx="890" cy="485" r="4"/></g>
<g id="baseline-pm-21"><circle class="DG" cx="917" cy="485" r="4.5"/></g>
<g id="baseline-pm-22"><circle class="GG" cx="868" cy="490" r="4.5"/></g>
<g id="baseline-pm-23"><circle class="DG" cx="987" cy="493" r="3"/></g>
<g id="baseline-pm-24"><circle class="Gy" cx="916" cy="501" r="3.5"/></g>
<g id="baseline-pm-25"><circle class="R" cx="791" cy="505" r="3.5"/></g>
<g id="baseline-pm-26"><circle class="Br" cx="855" cy="506" r="3"/></g>
<g id="baseline-pm-27"><circle class="RD" cx="888" cy="512" r="3"/></g>
<g id="baseline-pm-28"><circle class="RD" cx="826" cy="515" r="3.5"/></g>
<g id="baseline-pm-29"><circle class="RD" cx="893" cy="526" r="3.5"/></g>
<g id="baseline-pm-30"><circle class="R" cx="835" cy="562" r="3.5"/></g>
<g id="baseline-pm-31"><circle class="Gy" cx="892" cy="573" r="3.5"/></g>

<!-- colour bar -->
<g id="colorbar">
<rect x="1009.5" y="40.7" width="11.2" height="537" fill="url(#cmap)" stroke="#000" stroke-width="0.8"/>
<g stroke="#000" stroke-width="0.8">
<line x1="1020.7" y1="40.7" x2="1024.5" y2="40.7"/><line x1="1020.7" y1="94.4" x2="1024.5" y2="94.4"/>
<line x1="1020.7" y1="148.1" x2="1024.5" y2="148.1"/><line x1="1020.7" y1="201.8" x2="1024.5" y2="201.8"/>
<line x1="1020.7" y1="255.5" x2="1024.5" y2="255.5"/><line x1="1020.7" y1="309.2" x2="1024.5" y2="309.2"/>
<line x1="1020.7" y1="362.9" x2="1024.5" y2="362.9"/><line x1="1020.7" y1="416.6" x2="1024.5" y2="416.6"/>
<line x1="1020.7" y1="470.3" x2="1024.5" y2="470.3"/><line x1="1020.7" y1="524.0" x2="1024.5" y2="524.0"/>
<line x1="1020.7" y1="577.7" x2="1024.5" y2="577.7"/>
</g>
<text class="tick" x="1029" y="45.7">1.0</text>
<text class="tick" x="1029" y="99.4">0.8</text>
<text class="tick" x="1029" y="153.1">0.6</text>
<text class="tick" x="1029" y="206.8">0.4</text>
<text class="tick" x="1029" y="260.5">0.2</text>
<text class="tick" x="1029" y="314.2">0.0</text>
<text class="tick" x="1029" y="367.9">−0.2</text>
<text class="tick" x="1029" y="421.6">−0.4</text>
<text class="tick" x="1029" y="475.3">−0.6</text>
<text class="tick" x="1029" y="529.0">−0.8</text>
<text class="tick" x="1029" y="582.7">−1.0</text>
</g>
</svg>
